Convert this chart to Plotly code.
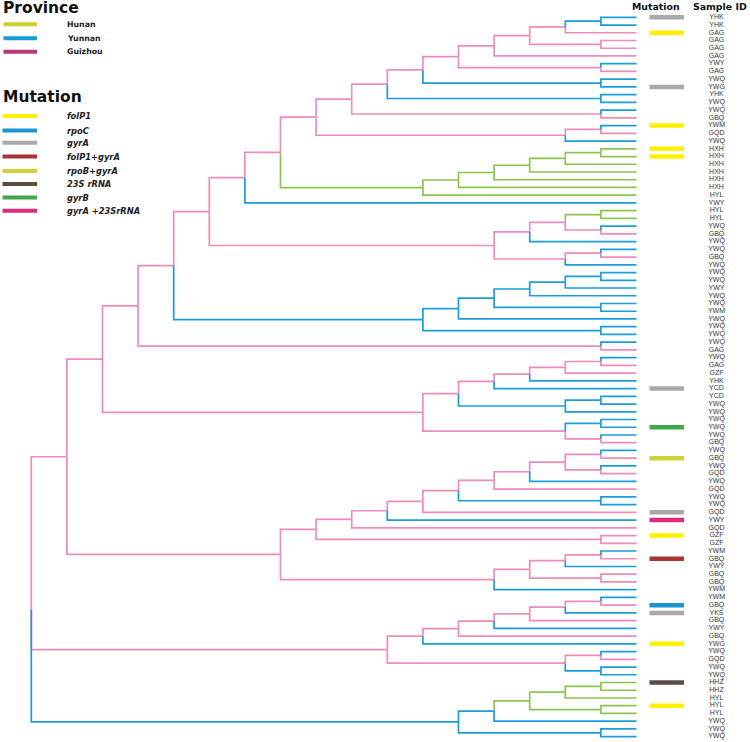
import plotly.graph_objects as go

# ---------------- data ----------------
sample_ids = ["YHK","YHK","GAG","GAG","GAG","GAG","YWY","GAG","YWQ","YWG",
              "YHK","YWQ","YWQ","GBQ","YWM","GQD","YWQ","HXH","HXH","HXH",
              "HXH","HXH","HXH","HYL","YWY","HYL","HYL","YWQ","GBQ","YWQ",
              "YWQ","GBQ","YWQ","YWQ","YWQ","YWY","YWQ","YWQ","YWM","YWQ",
              "YWQ","YWQ","YWQ","GAG","YWQ","GAG","GZF","YHK","YCD","YCD",
              "YWQ","YWQ","YWQ","YWQ","YWQ","GBQ","YWQ","GBQ","YWQ","GQD",
              "YWQ","GQD","YWQ","YWQ","GQD","YWY","GQD","GZF","GZF","YWM",
              "GBQ","YWY","GBQ","GBQ","YWM","YWM","GBQ","YKS","GBQ","YWY",
              "GBQ","YWG","YWQ","GQD","YWQ","YWQ","HHZ","HHZ","HYL","HYL",
              "HYL","YWQ","YWQ","YWQ"]

# leaf number (1-based, top to bottom) -> mutation
leaf_mutation = {1: "gyrA", 3: "folP1", 10: "gyrA", 15: "folP1", 18: "folP1",
                 19: "folP1", 49: "gyrA", 54: "gyrB", 58: "rpoB+gyrA",
                 65: "gyrA", 66: "gyrA +23SrRNA", 68: "folP1", 71: "folP1+gyrA",
                 77: "rpoC", 78: "gyrA", 82: "folP1", 87: "23S rRNA", 90: "folP1"}

provinces = ["Hunan", "Yunnan", "Guizhou"]
province_colors = ["#c8d22e", "#1a9ad6", "#b53a7c"]
prefix_branch = {"H": "g", "Y": "b", "G": "p"}

mutation_types = ["folP1", "rpoC", "gyrA", "folP1+gyrA", "rpoB+gyrA",
                  "23S rRNA", "gyrB", "gyrA +23SrRNA"]
mutation_colors = ["#fff000", "#1b96d2", "#a9a9a9", "#a83434", "#ccd43a",
                   "#5a4b43", "#3ea84a", "#de2b7f"]

branch_colors = {"p": "#ee8cbb", "b": "#1b9dd9", "g": "#8dc351"}

# tree topology (Newick, leaf numbers), letter after ')' = branch colour
A = "(((((((1,2)b,3)p,(4,5)p)p,6)p,(7,8)p)p,(9,10)b)p,(11,12)b)p"
B = "(" + A + ",(13,14)p)p"
C = "(" + B + ",((15,16)p,17)p)p"
D = "((((((18,19)g,20)g,21)g,22)g,23)g,24)g"
E = "(" + C + "," + D + ")p"
F = "(" + E + ",25)p"
G = "((((26,27)g,(28,29)p)p,30)p,((31,32)p,33)p)p"
H = "(" + F + "," + G + ")p"
I = "((((((34,35)b,36)b,37)b,(38,39)b)b,40)b,(41,42)b)b"
J = "(" + H + "," + I + ")p"
K = "(" + J + ",(43,44)p)p"
L = "((((((45,46)p,47)p,48)p,49)p,((50,51)b,52)b)p,((53,54)b,(55,56)p)p)p"
M = "(" + K + "," + L + ")p"
P = "(((((((((57,58)p,(59,60)p)p,61)p,62)p,(63,64)b)p,65)p,66)p,67)p,(68,69)p)p"
Q = "((((70,71)p,72)p,(73,74)p)p,75)p"
R = "(" + M + ",(" + P + "," + Q + ")p)p"
S = "(((((((76,77)p,78)p,79)p,80)p,81)p,82)p,((83,84)p,(85,86)b)p)p"
T = "(((((87,88)g,89)g,(90,91)g)g,92)b,(93,94)b)b"
newick = "(" + R + "," + S + "," + T + ")"

# ---------------- tree parsing / layout ----------------
def parse(s):
    pos = 0
    def node():
        nonlocal pos
        if s[pos] == "(":
            pos += 1
            kids = [node()]
            while s[pos] == ",":
                pos += 1
                kids.append(node())
            assert s[pos] == ")"
            pos += 1
            col = None
            if pos < len(s) and s[pos] in "bpg":
                col = s[pos]
                pos += 1
            return {"kids": kids, "col": col}
        j = pos
        while s[pos].isdigit():
            pos += 1
        n = int(s[j:pos])
        return {"leaf": n, "col": prefix_branch[sample_ids[n - 1][0]]}
    return node()

root = parse(newick)

def layout(nd):
    if "leaf" in nd:
        nd["h"] = 0
        nd["y"] = nd["leaf"] - 1
        return
    for k in nd["kids"]:
        layout(k)
    nd["h"] = max(k["h"] for k in nd["kids"]) + 1
    nd["y"] = sum(k["y"] for k in nd["kids"]) / len(nd["kids"])

layout(root)

segs = {"p": ([], []), "g": ([], []), "b": ([], [])}
def collect(nd):
    if "kids" not in nd:
        return
    for k in nd["kids"]:
        xs, ys = segs[k["col"]]
        xs += [nd["h"], nd["h"], k["h"], None]
        ys += [nd["y"], k["y"], k["y"], None]
        collect(k)
collect(root)

# ---------------- pixel mapping via axis ranges ----------------
W, Hh = 750, 742
TIP_PX, STEP = 636.5, 35.6
Y0, DY = 17.3, 7.735
def hx(px):
    return (TIP_PX - px) / STEP

fig = go.Figure()
for c in ["p", "g", "b"]:
    xs, ys = segs[c]
    fig.add_trace(go.Scatter(x=xs, y=ys, mode="lines",
                             line=dict(color=branch_colors[c], width=1.7),
                             hoverinfo="skip", showlegend=False))

# mutation bars
for n, m in leaf_mutation.items():
    col = mutation_colors[mutation_types.index(m)]
    fig.add_trace(go.Scatter(x=[hx(649.5), hx(684)], y=[n - 1, n - 1], mode="lines",
                             line=dict(color=col, width=4.5),
                             hoverinfo="skip", showlegend=False))

# sample labels
fig.add_trace(go.Scatter(x=[hx(716.5)] * len(sample_ids), y=list(range(len(sample_ids))),
                         mode="text", text=sample_ids, textposition="middle center",
                         textfont=dict(family="Liberation Sans, Arial", size=7, color="#333333"),
                         hoverinfo="skip", showlegend=False))

def px_x(p):
    return p / W
def px_y(p):
    return 1 - p / Hh

annotations = []
shapes = []
# column headers
annotations.append(dict(x=px_x(656), y=px_y(6.5), xref="paper", yref="paper",
                        text="<b>Mutation</b>", showarrow=False, xanchor="center", yanchor="middle",
                        font=dict(family="DejaVu Sans", size=9.4, color="#111111")))
annotations.append(dict(x=px_x(720), y=px_y(6.5), xref="paper", yref="paper",
                        text="<b>Sample ID</b>", showarrow=False, xanchor="center", yanchor="middle",
                        font=dict(family="DejaVu Sans", size=9.4, color="#111111")))

# legend titles
annotations.append(dict(x=px_x(1), y=px_y(8), xref="paper", yref="paper",
                        text="<b>Province</b>", showarrow=False, xanchor="left", yanchor="middle",
                        font=dict(family="DejaVu Sans", size=15.5, color="#111111")))
annotations.append(dict(x=px_x(1), y=px_y(97), xref="paper", yref="paper",
                        text="<b>Mutation</b>", showarrow=False, xanchor="left", yanchor="middle",
                        font=dict(family="DejaVu Sans", size=15.5, color="#111111")))

prov_y = [24.3, 38.3, 51.7]
for name, col, yy in zip(provinces, province_colors, prov_y):
    shapes.append(dict(type="line", xref="paper", yref="paper",
                       x0=px_x(3.5), x1=px_x(37), y0=px_y(yy), y1=px_y(yy),
                       line=dict(color=col, width=4)))
    annotations.append(dict(x=px_x(65), y=px_y(yy), xref="paper", yref="paper",
                            text="<b>" + name + "</b>", showarrow=False,
                            xanchor="left", yanchor="middle",
                            font=dict(family="DejaVu Sans", size=7.8, color="#222222")))

mut_y = [116, 130.5, 142.7, 156.5, 171, 184, 197.5, 210.7]
for name, col, yy in zip(mutation_types, mutation_colors, mut_y):
    shapes.append(dict(type="line", xref="paper", yref="paper",
                       x0=px_x(2.5), x1=px_x(37), y0=px_y(yy), y1=px_y(yy),
                       line=dict(color=col, width=4)))
    annotations.append(dict(x=px_x(65), y=px_y(yy), xref="paper", yref="paper",
                            text="<b><i>" + name + "</i></b>", showarrow=False,
                            xanchor="left", yanchor="middle",
                            font=dict(family="DejaVu Sans", size=8.3, color="#222222")))

fig.update_layout(
    width=W, height=Hh, margin=dict(l=0, r=0, t=0, b=0),
    paper_bgcolor="white", plot_bgcolor="white",
    xaxis=dict(range=[hx(0), hx(W)], visible=False, fixedrange=True),
    yaxis=dict(range=[(Hh - Y0) / DY, -Y0 / DY], visible=False, fixedrange=True),
    annotations=annotations, shapes=shapes, showlegend=False,
)

fig.write_html("out.html", config={"displayModeBar": False},
               post_script="document.body.style.margin='0';document.body.style.overflow='hidden';")
